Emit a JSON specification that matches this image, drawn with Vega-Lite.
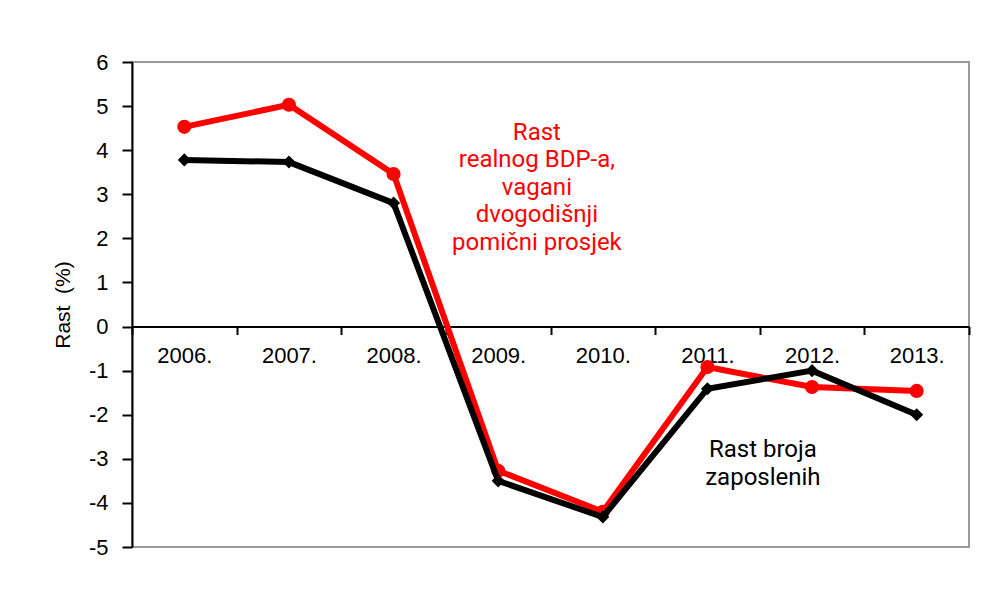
{
  "$schema": "https://vega.github.io/schema/vega-lite/v6.json",
  "width": 837,
  "height": 485,
  "autosize": "none",
  "padding": {"left": 132, "top": 62, "right": 15, "bottom": 45},
  "background": "white",
  "config": {
    "view": {"stroke": "#9a9a9a", "strokeWidth": 2},
    "font": "Liberation Sans",
    "axis": {"grid": false}
  },
  "datasets": {
    "series": [
      {"year": 2006, "series": "BDP", "value": 4.53},
      {"year": 2007, "series": "BDP", "value": 5.03},
      {"year": 2008, "series": "BDP", "value": 3.46},
      {"year": 2009, "series": "BDP", "value": -3.27},
      {"year": 2010, "series": "BDP", "value": -4.2},
      {"year": 2011, "series": "BDP", "value": -0.92},
      {"year": 2012, "series": "BDP", "value": -1.37},
      {"year": 2013, "series": "BDP", "value": -1.46},
      {"year": 2006, "series": "Zaposleni", "value": 3.78},
      {"year": 2007, "series": "Zaposleni", "value": 3.73},
      {"year": 2008, "series": "Zaposleni", "value": 2.8},
      {"year": 2009, "series": "Zaposleni", "value": -3.5},
      {"year": 2010, "series": "Zaposleni", "value": -4.32},
      {"year": 2011, "series": "Zaposleni", "value": -1.41},
      {"year": 2012, "series": "Zaposleni", "value": -1.0},
      {"year": 2013, "series": "Zaposleni", "value": -2.0}
    ],
    "notes": [
      {"x": 2009.37, "y": 4.39, "label": "Rast\nrealnog BDP-a,\nvagani\ndvogodišnji\npomični prosjek", "series": "BDP"},
      {"x": 2011.53, "y": -2.8, "label": "Rast broja\nzaposlenih", "series": "Zaposleni"}
    ]
  },
  "layer": [
    {
      "data": {"name": "series"},
      "transform": [{"filter": "datum.series === 'BDP'"}],
      "mark": {"type": "line", "color": "#ff0000", "strokeWidth": 6},
      "encoding": {
        "x": {
          "field": "year", "type": "quantitative",
          "scale": {"domain": [2005.5, 2013.5], "nice": false, "zero": false},
          "axis": {
            "orient": "bottom", "offset": -220.5, "title": null,
            "values": [2005.5, 2006.5, 2007.5, 2008.5, 2009.5, 2010.5, 2011.5, 2012.5, 2013.5],
            "labels": false, "domain": true, "domainColor": "#000000", "domainWidth": 2,
            "ticks": true, "tickColor": "#000000", "tickWidth": 2, "tickSize": 8
          }
        },
        "y": {
          "field": "value", "type": "quantitative",
          "scale": {"domain": [-5, 6], "nice": false, "zero": false},
          "axis": {
            "values": [-5, -4, -3, -2, -1, 0, 1, 2, 3, 4, 5, 6],
            "labelExpr": "'' + datum.value",
            "title": "Rast \u00a0(%)", "titleFontSize": 21, "titleFontWeight": "normal", "titleColor": "#000000",
            "titlePadding": 15,
            "labelFontSize": 22, "labelColor": "#000000", "labelPadding": 14,
            "domainColor": "#000000", "domainWidth": 2,
            "tickColor": "#000000", "tickWidth": 2, "tickSize": 10
          }
        }
      }
    },
    {
      "data": {"name": "series"},
      "transform": [{"filter": "datum.series === 'BDP'"}],
      "mark": {"type": "point", "shape": "circle", "filled": true, "color": "#ff0000", "size": 200, "opacity": 1},
      "encoding": {
        "x": {"field": "year", "type": "quantitative", "axis": null},
        "y": {"field": "value", "type": "quantitative"}
      }
    },
    {
      "data": {"name": "series"},
      "transform": [{"filter": "datum.series === 'Zaposleni'"}],
      "mark": {"type": "line", "color": "#000000", "strokeWidth": 6},
      "encoding": {
        "x": {
          "field": "year", "type": "quantitative",
          "axis": {
            "orient": "bottom", "offset": -220.5, "title": null,
            "values": [2006, 2007, 2008, 2009, 2010, 2011, 2012, 2013],
            "labelExpr": "datum.value + '.'",
            "labelFontSize": 22, "labelColor": "#000000", "labelPadding": 19,
            "labelFlush": false, "labelOverlap": false,
            "domain": false, "ticks": false
          }
        },
        "y": {"field": "value", "type": "quantitative"}
      }
    },
    {
      "data": {"name": "series"},
      "transform": [{"filter": "datum.series === 'Zaposleni'"}],
      "mark": {"type": "point", "shape": "diamond", "filled": true, "color": "#000000", "size": 170, "opacity": 1},
      "encoding": {
        "x": {"field": "year", "type": "quantitative", "axis": null},
        "y": {"field": "value", "type": "quantitative"}
      }
    },
    {
      "data": {"name": "notes"},
      "mark": {"type": "text", "lineBreak": "\n", "fontSize": 24, "lineHeight": 27.5, "align": "center", "baseline": "middle", "font": "Roboto"},
      "encoding": {
        "x": {"field": "x", "type": "quantitative", "axis": null},
        "y": {"field": "y", "type": "quantitative"},
        "text": {"field": "label"},
        "color": {"field": "series", "type": "nominal", "scale": {"domain": ["BDP", "Zaposleni"], "range": ["#ff0000", "#000000"]}, "legend": null}
      }
    }
  ],
  "resolve": {"axis": {"x": "independent"}}
}
